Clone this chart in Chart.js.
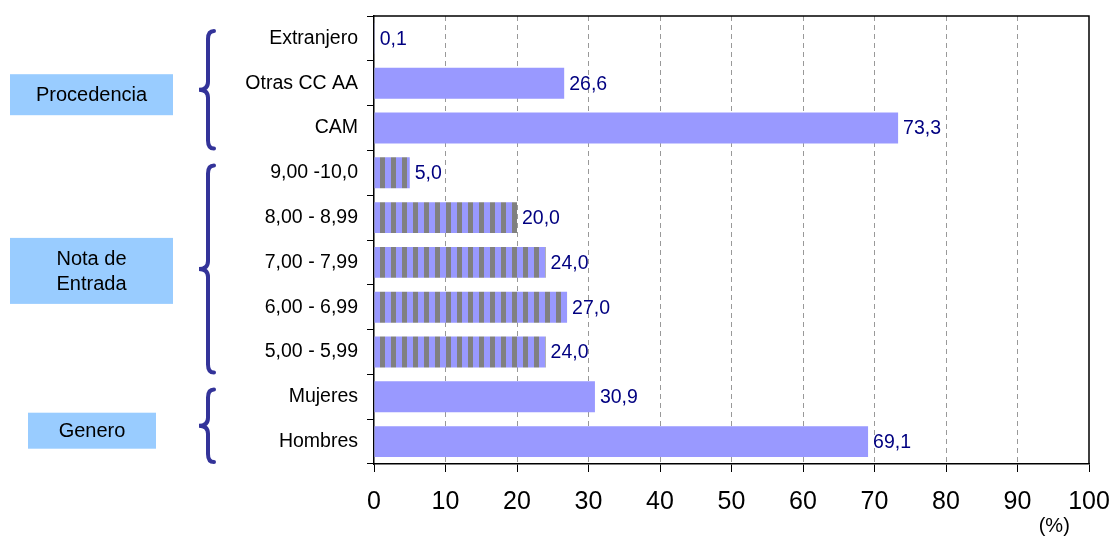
<!DOCTYPE html>
<html lang="es">
<head>
    <meta charset="UTF-8">
    <title>Perfil de ingreso</title>
    <script src="https://cdn.jsdelivr.net/npm/chart.js"></script>
    <style>
        body {
            margin: 0;
            background: #fff;
        }
        #grafico {
            display: block;
        }
    </style>
</head>
<body>
    <canvas id="grafico" width="1113" height="538"></canvas>

    <script>
        // Datos del gráfico
        const categorias = ['Extranjero', 'Otras CC AA', 'CAM', '9,00 -10,0', '8,00 - 8,99',
            '7,00 - 7,99', '6,00 - 6,99', '5,00 - 5,99', 'Mujeres', 'Hombres'];
        const valores = [0.1, 26.6, 73.3, 5.0, 20.0, 24.0, 27.0, 24.0, 30.9, 69.1];
        const ticksX = [0, 10, 20, 30, 40, 50, 60, 70, 80, 90, 100];

        // Grupos (etiqueta, primera y última categoría)
        const grupos = ['Procedencia', 'Nota de\nEntrada', 'Genero'];
        const grupoInicio = [0, 3, 8];
        const grupoFin = [2, 7, 9];
        const grupoRayado = [false, true, false];

        const AZUL = '#9999FF';
        const GRIS = '#808080';
        const FUENTE = '"Liberation Sans", Arial, sans-serif';

        // Patrón de rayas verticales para las notas de entrada
        function crearRayas() {
            const c = document.createElement('canvas');
            c.width = 11;
            c.height = 4;
            const g = c.getContext('2d');
            g.fillStyle = AZUL;
            g.fillRect(0, 0, 6, 4);
            g.fillStyle = GRIS;
            g.fillRect(6, 0, 5, 4);
            return g.createPattern(c, 'repeat');
        }
        const rayas = crearRayas();

        const colores = categorias.map((_, i) => {
            const k = grupoInicio.findIndex((ini, j) => i >= ini && i <= grupoFin[j]);
            return grupoRayado[k] ? rayas : AZUL;
        });

        // Etiquetas de valor al final de cada barra
        const etiquetasValor = {
            id: 'etiquetasValor',
            afterDatasetsDraw(chart) {
                const ctx = chart.ctx;
                const meta = chart.getDatasetMeta(0);
                ctx.save();
                ctx.font = '19.5px ' + FUENTE;
                ctx.fillStyle = '#000080';
                ctx.textAlign = 'left';
                ctx.textBaseline = 'middle';
                meta.data.forEach((bar, i) => {
                    const txt = valores[i].toFixed(1).replace('.', ',');
                    ctx.fillText(txt, bar.x + 5, bar.y + 1);
                });
                ctx.restore();
            }
        };

        // Marco, llaves, cajas de grupo y unidad
        const decoracion = {
            id: 'decoracion',
            afterDraw(chart) {
                const ctx = chart.ctx;
                const a = chart.chartArea;
                const y = chart.scales.y;
                const x = chart.scales.x;
                const paso = y.getPixelForValue(1) - y.getPixelForValue(0);

                ctx.save();
                // marco superior y derecho
                ctx.strokeStyle = '#000';
                ctx.lineWidth = 1.5;
                ctx.beginPath();
                ctx.moveTo(a.left, a.top);
                ctx.lineTo(a.right, a.top);
                ctx.lineTo(a.right, a.bottom);
                ctx.stroke();

                grupos.forEach((nombre, k) => {
                    const top = y.getPixelForValue(grupoInicio[k]) - paso / 2 + 15;
                    const bot = y.getPixelForValue(grupoFin[k]) + paso / 2 - 2;
                    const mid = (top + bot) / 2;

                    // llave
                    const xr = 214, xl = 208, xp = 199;
                    ctx.strokeStyle = '#333399';
                    ctx.lineWidth = 4;
                    ctx.lineCap = 'round';
                    ctx.beginPath();
                    ctx.moveTo(xr, top);
                    ctx.quadraticCurveTo(xl, top, xl, top + 8);
                    ctx.lineTo(xl, mid - 8);
                    ctx.quadraticCurveTo(xl, mid, xp, mid);
                    ctx.quadraticCurveTo(xl, mid, xl, mid + 8);
                    ctx.lineTo(xl, bot - 8);
                    ctx.quadraticCurveTo(xl, bot, xr, bot);
                    ctx.stroke();

                    // caja
                    const lineas = nombre.split('\n');
                    const alto = lineas.length > 1 ? 66 : (k === 2 ? 36 : 41);
                    const x0 = k === 2 ? 28 : 10;
                    const x1 = k === 2 ? 156 : 173;
                    const cy = mid + (k === 1 ? 2 : 5);
                    ctx.fillStyle = '#99CCFF';
                    ctx.fillRect(x0, cy - alto / 2, x1 - x0, alto);
                    ctx.fillStyle = '#000';
                    ctx.font = '20px ' + FUENTE;
                    ctx.textAlign = 'center';
                    ctx.textBaseline = 'middle';
                    lineas.forEach((l, j) => {
                        ctx.fillText(l, (x0 + x1) / 2, cy + 1 + (j - (lineas.length - 1) / 2) * 25);
                    });
                });

                // unidad
                ctx.fillStyle = '#000';
                ctx.font = '20px ' + FUENTE;
                ctx.textAlign = 'center';
                ctx.textBaseline = 'middle';
                ctx.fillText('(%)', x.getPixelForValue(95) + 1, 526);
                ctx.restore();
            }
        };

        new Chart(document.getElementById('grafico'), {
            type: 'bar',
            data: {
                labels: categorias,
                datasets: [{
                    data: valores,
                    backgroundColor: colores,
                    borderWidth: 0,
                    barPercentage: 0.69,
                    categoryPercentage: 1
                }]
            },
            options: {
                indexAxis: 'y',
                responsive: false,
                animation: false,
                layout: { padding: { left: 0, right: 24, top: 16, bottom: 0 } },
                plugins: {
                    legend: { display: false },
                    tooltip: { enabled: false }
                },
                scales: {
                    x: {
                        min: 0,
                        max: 100,
                        afterBuildTicks(scale) {
                            scale.ticks = ticksX.map(v => ({ value: v }));
                        },
                        afterFit(scale) {
                            scale.height = 74;
                            scale.paddingLeft = 0;
                            scale.paddingRight = 0;
                        },
                        grid: {
                            color: c => (c.tick && (c.tick.value === 0 || c.tick.value === 100)) ? 'rgba(0,0,0,0)' : '#999999',
                            tickColor: '#000',
                            tickLength: 8,
                            lineWidth: 1
                        },
                        border: { color: '#000', width: 1.5, dash: [5, 4] },
                        ticks: {
                            color: '#000',
                            font: { family: FUENTE, size: 25 },
                            padding: 15,
                            maxRotation: 0
                        }
                    },
                    y: {
                        afterFit(scale) {
                            scale.width = 374;
                            scale.paddingTop = 0;
                            scale.paddingBottom = 0;
                        },
                        grid: {
                            drawOnChartArea: false,
                            color: '#000',
                            tickLength: 7,
                            offset: true
                        },
                        border: { color: '#000', width: 1.5 },
                        ticks: {
                            color: '#000',
                            autoSkip: false,
                            font: { family: FUENTE, size: 19.5 },
                            padding: 9
                        }
                    }
                }
            },
            plugins: [etiquetasValor, decoracion]
        });
    </script>
</body>
</html>
